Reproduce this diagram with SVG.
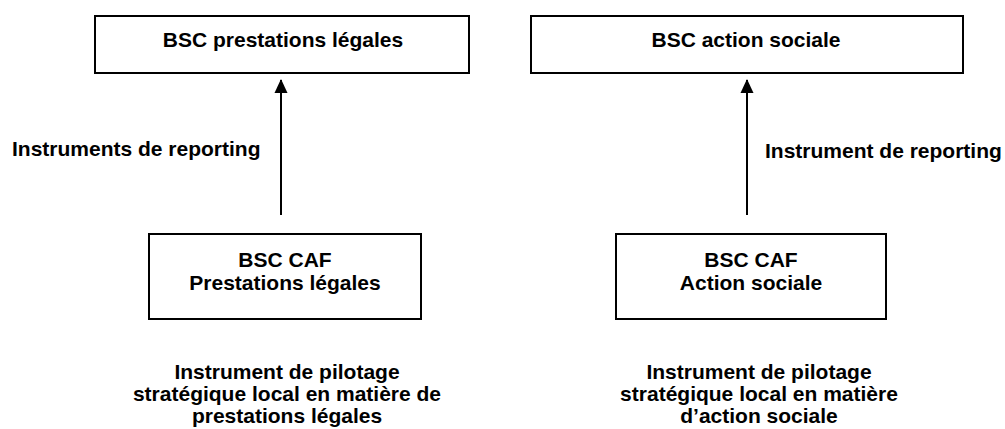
<svg xmlns="http://www.w3.org/2000/svg" width="1005" height="429" viewBox="0 0 1005 429">
<style>
.box{fill:#fff;stroke:#000;stroke-width:2}
.t{font-family:"Liberation Sans",Arial,sans-serif;font-weight:bold;font-size:21px;fill:#000;text-anchor:middle}
.l{font-family:"Liberation Sans",Arial,sans-serif;font-weight:bold;font-size:21px;fill:#000}
.c{stroke:#000;stroke-width:2;fill:none}
</style>
<defs>
<marker id="ah" markerWidth="14" markerHeight="16" refX="14" refY="7" orient="auto" markerUnits="userSpaceOnUse" viewBox="0 0 15 14">
<path d="M0,0 L15,7 L0,14 Z" fill="#000"/>
</marker>
</defs>
<rect width="1005" height="429" fill="#fff"/>
<g id="connectors">
<line class="c" x1="281" y1="215" x2="281" y2="80" marker-end="url(#ah)"/>
<line class="c" x1="747" y1="215" x2="747" y2="80" marker-end="url(#ah)"/>
</g>
<g id="top-left">
<rect class="box" x="95" y="16" width="374" height="57"/>
<text class="t" x="283" y="47">BSC prestations légales</text>
</g>
<g id="top-right">
<rect class="box" x="531" y="16" width="432" height="57"/>
<text class="t" x="746" y="47">BSC action sociale</text>
</g>
<g id="bottom-left">
<rect class="box" x="149" y="234" width="272" height="85"/>
<text class="t" x="285" y="267">BSC CAF</text>
<text class="t" x="285" y="290">Prestations légales</text>
</g>
<g id="bottom-right">
<rect class="box" x="616" y="234" width="270" height="85"/>
<text class="t" x="751" y="267">BSC CAF</text>
<text class="t" x="751" y="290">Action sociale</text>
</g>
<g id="label-left">
<text class="l" x="12" y="156">Instruments de reporting</text>
</g>
<g id="label-right">
<text class="l" x="765" y="158">Instrument de reporting</text>
</g>
<g id="caption-left">
<text class="t" x="287" y="379">Instrument de pilotage</text>
<text class="t" x="287" y="401">stratégique local en matière de</text>
<text class="t" x="287" y="423">prestations légales</text>
</g>
<g id="caption-right">
<text class="t" x="759" y="379">Instrument de pilotage</text>
<text class="t" x="759" y="401">stratégique local en matière</text>
<text class="t" x="759" y="423">d’action sociale</text>
</g>
</svg>
